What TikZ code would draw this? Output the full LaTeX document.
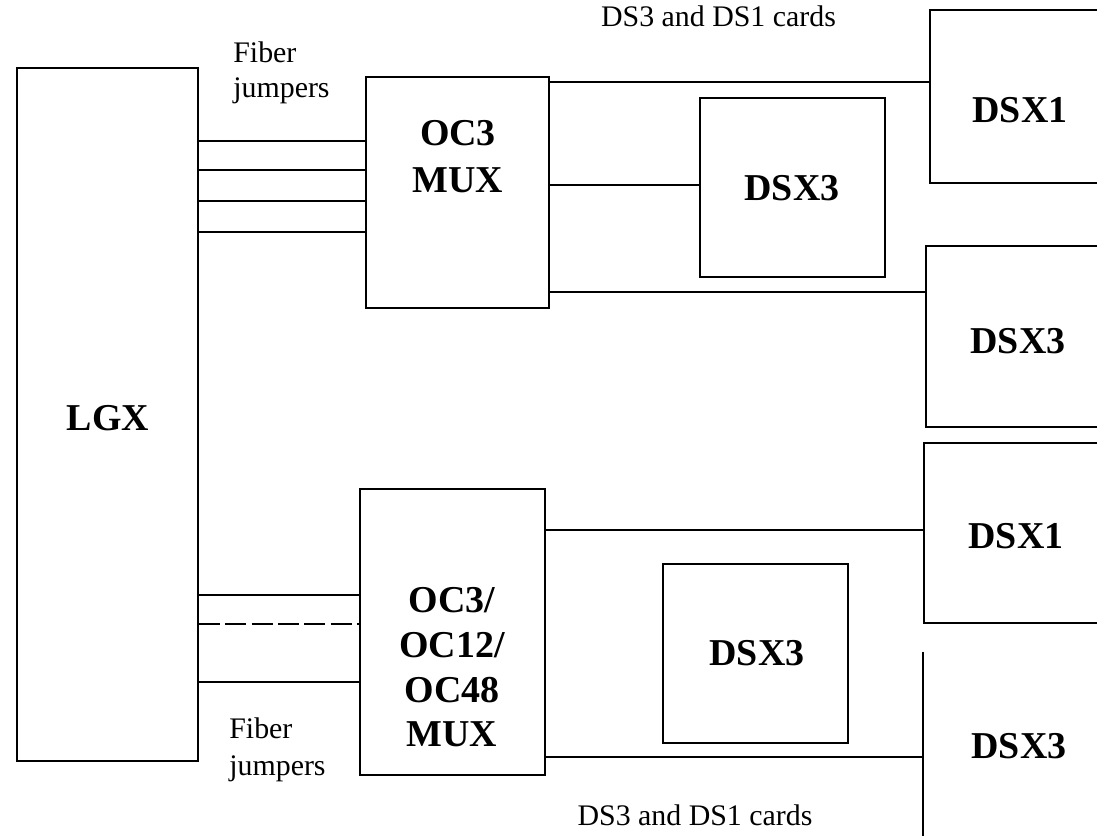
\documentclass[tikz,border=0pt]{standalone}
\usepackage{fontspec}
\setmainfont{Liberation Serif}
\begin{document}
\begin{tikzpicture}[x=0.02cm,y=-0.02cm,
  ln/.style={line width=1.1pt},
  blk/.style={draw, line width=1.1pt, inner sep=0pt},
  openbox/.style={inner sep=0pt},
  big/.style={font=\fontsize{21.6}{26.7}\selectfont\bfseries, inner sep=0pt, anchor=base},
  bigml/.style={font=\fontsize{21.6}{26.7}\selectfont\bfseries, inner sep=0pt, anchor=north, align=center},
  small/.style={font=\fontsize{17}{20}\selectfont, inner sep=0pt},
]
\useasboundingbox (0,0) rectangle (1097,835);
\clip (0,0) rectangle (1097,835);

% closed boxes
\node[blk, minimum width=3.62cm, minimum height=13.86cm] (lgx) at (107.5,414.5) {};
\node[blk, minimum width=3.66cm, minimum height=4.62cm] (mux1) at (457.5,192.5) {};
\node[blk, minimum width=3.7cm, minimum height=3.58cm] (dsx3a) at (792.5,187.5) {};
\node[blk, minimum width=3.7cm, minimum height=5.72cm] (mux2) at (452.5,632) {};
\node[blk, minimum width=3.7cm, minimum height=3.58cm] (dsx3d) at (755.5,653.5) {};

% boxes cut by the right edge
\node[openbox, minimum width=3.6cm, minimum height=3.46cm] (dsx1a) at (1020,96.5) {};
\node[openbox, minimum width=3.68cm, minimum height=3.62cm] (dsx3b) at (1018,336.5) {};
\node[openbox, minimum width=3.72cm, minimum height=3.6cm] (dsx1b) at (1017,533) {};
\node[openbox, minimum width=3.74cm, minimum height=4.16cm] (dsx3c) at (1016.5,756) {};
\draw[ln] (dsx1a.north east) -- (dsx1a.north west) -- (dsx1a.south west) -- (dsx1a.south east);
\draw[ln] (dsx3b.north east) -- (dsx3b.north west) -- (dsx3b.south west) -- (dsx3b.south east);
\draw[ln] (dsx1b.north east) -- (dsx1b.north west) -- (dsx1b.south west) -- (dsx1b.south east);
\draw[ln] (dsx3c.north west) -- (dsx3c.south west);

% fiber jumpers
\foreach \yy in {141,170,201,232}
  \draw[ln] (lgx.east |- 0,\yy) -- (mux1.west |- 0,\yy);
\draw[ln] (lgx.east |- 0,595) -- (mux2.west |- 0,595);
\draw[ln, dash pattern=on 12pt off 3pt] (lgx.east |- 0,624) -- (mux2.west |- 0,624);
\draw[ln] (lgx.east |- 0,682) -- (mux2.west |- 0,682);

% card connections
\draw[ln] (mux1.east |- 0,82) -- (dsx1a.west |- 0,82);
\draw[ln] (mux1.east |- 0,185) -- (dsx3a.west |- 0,185);
\draw[ln] (mux1.east |- 0,292) -- (dsx3b.west |- 0,292);
\draw[ln] (mux2.east |- 0,530) -- (dsx1b.west |- 0,530);
\draw[ln] (mux2.east |- 0,757) -- (dsx3c.west |- 0,757);

% labels
\node[big] (tlgx) at (108,430) {LGX};
\node[bigml] (tmux1) at (458,120) {OC3\\MUX};
\node[bigml, font=\fontsize{21.6}{25.5}\selectfont\bfseries] (tmux2) at (452,587) {OC3/\\OC12/\\OC48\\MUX};
\node[big] (tdsx3a) at (792,200) {DSX3};
\node[big] (tdsx3d) at (757,665) {DSX3};
\node[big] (tdsx1a) at (1020,122) {DSX1};
\node[big] (tdsx3b) at (1018,353) {DSX3};
\node[big] (tdsx1b) at (1016,548) {DSX1};
\node[big] (tdsx3c) at (1019,758) {DSX3};

\node[small, anchor=north west, align=left, font=\fontsize{17}{19.9}\selectfont] (fj1) at (233,41.5) {Fiber\\jumpers};
\node[small, anchor=north west, align=left, font=\fontsize{17}{21}\selectfont] (fj2) at (229,717.5) {Fiber\\jumpers};
\node[small, anchor=base] (cards1) at (718.5,27) {DS3 and DS1 cards};
\node[small, anchor=base] (cards2) at (695,825) {DS3 and DS1 cards};
\end{tikzpicture}
\end{document}
